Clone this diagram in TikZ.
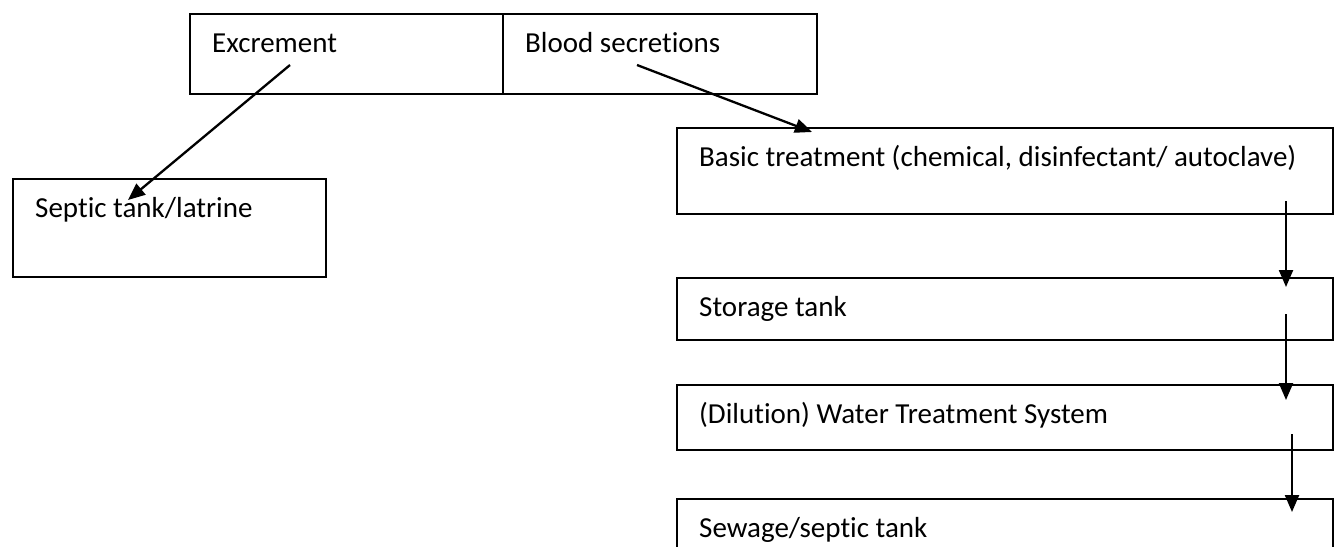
\documentclass[tikz,border=0pt]{standalone}
\usepackage{fontspec}
\setmainfont{Carlito}[Ligatures=NoCommon]
\usetikzlibrary{arrows.meta}
\begin{document}
\begin{tikzpicture}[x=1pt,y=-1pt,
  box/.style={draw, line width=1.6pt, rectangle, inner sep=0pt, anchor=north west},
  tx/.style={anchor=base west, inner sep=0pt, font=\fontsize{29}{35}\selectfont},
  arr/.style={line width=2.3pt, -{Triangle[length=17pt,width=14pt]}}]
\useasboundingbox (0,0) rectangle (1338,546);
\clip (0,0) rectangle (1338,546);
% top boxes
\node[box, minimum width=313pt, minimum height=80pt] (exb) at (189,13) {};
\node[box, minimum width=314pt, minimum height=80pt] (blb) at (502,13) {};
\node[tx] (ext) at (212,52) {Excrement};
\node[tx] (blt) at (525,52) {Blood secretions};
% left
\node[box, minimum width=313pt, minimum height=98pt] (sepb) at (12,178) {};
\node[tx] (sept) at (35,217) {Septic tank/latrine};
% right column
\node[box, minimum width=656pt, minimum height=86pt] (basb) at (676,127) {};
\node[tx] (bast) at (699,166) {Basic treatment (chemical, disinfectant/ autoclave)};
\node[box, minimum width=656pt, minimum height=62pt] (stob) at (676,277) {};
\node[tx] (stot) at (699,316) {Storage tank};
\node[box, minimum width=656pt, minimum height=65pt] (dilb) at (676,384) {};
\node[tx] (dilt) at (699,423) {(Dilution) Water Treatment System};
\node[box, minimum width=656pt, minimum height=80pt] (sewb) at (676,498) {};
\node[tx] (sewt) at (699,537) {Sewage/septic tank};
% arrow end points
\coordinate (a1s) at (290,65);
\coordinate (a1e) at (128,200);
\coordinate (a2s) at (637,65);
\coordinate (a2e) at (812,132);
\coordinate (v1s) at (1286,201);
\coordinate (v1e) at (1286,287);
\coordinate (v2s) at (1286,314);
\coordinate (v2e) at (1286,400);
\coordinate (v3s) at (1292,434);
\coordinate (v3e) at (1292,512);
\draw[arr] (a1s) -- (a1e);
\draw[arr] (a2s) -- (a2e);
\draw[arr] (v1s) -- (v1e);
\draw[arr] (v2s) -- (v2e);
\draw[arr] (v3s) -- (v3e);
\end{tikzpicture}
\end{document}
